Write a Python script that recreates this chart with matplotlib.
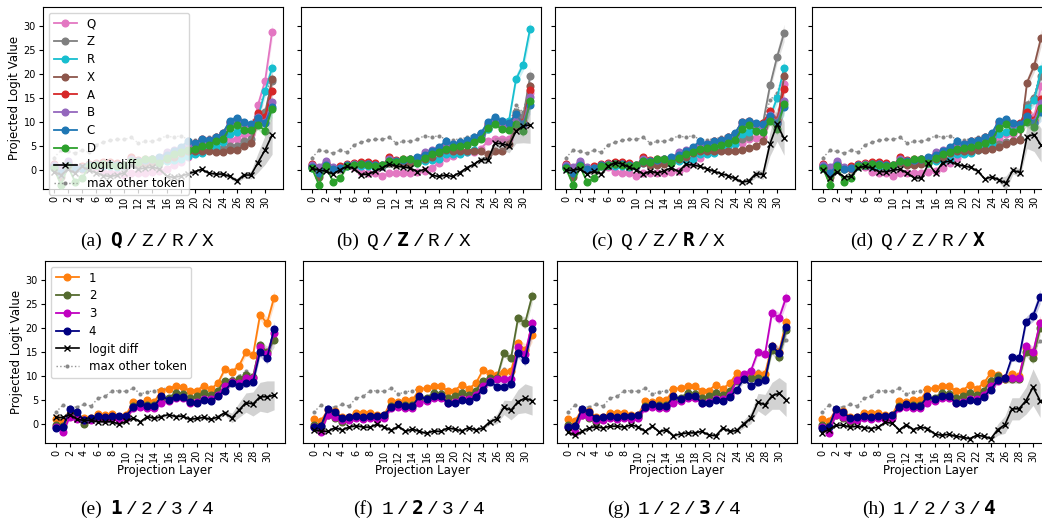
import numpy as np
import matplotlib
matplotlib.use("Agg")
import matplotlib.pyplot as plt

layers = np.arange(32)

# ---- top row: letter options Q/Z/R/X + A/B/C/D ----
letters = ["Q", "Z", "R", "X", "A", "B", "C", "D"]
letter_colors = ["#e377c2", "#7f7f7f", "#17becf", "#8c564b",
                 "#d62728", "#9467bd", "#1f77b4", "#2ca02c"]

a_Q = [1.0, 0.3, 0.8, 0.5, 0.5, 0.8, 0.6, -0.3, -0.5, -0.6, -1.0, -0.5, -0.6, -0.5, -0.4, -0.2, 0.3, 1.0, 1.8, 2.8, 3.5, 4.5, 4.7, 4.8, 4.6, 6.2, 6.4, 7.5, 7.5, 13.6, 18.5, 28.7]
a_Z = [0.8, 0.2, 1.2, 0.4, 0.5, 1.0, 1.2, 1.3, 1.2, 1.0, 0.9, 2.0, 1.8, 2.0, 2.2, 2.4, 2.8, 3.5, 4.0, 4.6, 4.5, 5.2, 5.0, 5.0, 4.5, 5.0, 5.0, 6.0, 6.5, 11.0, 12.0, 18.5]
a_R = [0.5, 0.2, 0.8, 0.3, 0.5, 0.8, 1.0, 0.9, 0.8, 0.6, 0.8, 1.5, 1.5, 1.5, 1.6, 1.4, 2.0, 2.2, 2.4, 3.0, 3.3, 3.5, 4.5, 4.8, 5.8, 7.5, 8.0, 8.3, 8.5, 11.0, 16.4, 21.2]
a_X = [0.8, -1.5, 0.8, 0.3, 0.3, 1.0, 1.0, 1.2, 1.2, 1.0, 0.8, 1.5, 1.3, 1.3, 1.5, 1.8, 2.3, 2.8, 3.5, 4.0, 4.0, 4.0, 3.9, 3.8, 3.8, 4.3, 4.2, 5.0, 5.7, 10.0, 11.0, 19.0]
a_A = [1.3, 0.5, 1.5, 0.5, 0.8, 1.2, 1.5, 1.7, 1.7, 1.5, 1.0, 2.7, 2.2, 2.3, 2.3, 2.6, 3.3, 4.0, 4.5, 5.5, 5.6, 6.4, 6.3, 6.8, 7.7, 10.0, 10.7, 9.8, 9.3, 11.8, 11.0, 16.5]
a_B = [1.0, 0.7, 1.9, 0.7, 0.5, 1.0, 1.2, 1.3, 1.2, 1.0, 0.8, 2.3, 2.0, 2.2, 2.3, 2.6, 3.7, 4.1, 4.6, 5.5, 5.5, 6.2, 6.2, 6.7, 7.5, 9.8, 10.5, 9.6, 9.2, 11.0, 10.0, 14.1]
a_C = [0.6, -0.6, 1.0, 0.3, 0.5, 1.0, 1.0, 1.2, 1.2, 1.0, 1.0, 2.0, 2.0, 2.2, 2.3, 2.8, 3.2, 4.0, 4.8, 6.0, 5.6, 6.4, 6.3, 6.8, 7.7, 10.3, 10.9, 10.0, 9.5, 10.8, 9.8, 13.2]
a_D = [0.4, -3.0, 0.8, -2.4, -1.7, 0.8, 1.0, 1.2, 1.0, 0.8, 1.0, 2.0, 1.8, 2.3, 2.3, 1.5, 2.5, 3.3, 3.8, 4.3, 4.5, 5.0, 5.3, 6.0, 6.5, 8.8, 9.3, 8.4, 8.3, 9.4, 8.2, 12.8]
a_diff = [-0.3, -1.0, 0.2, -0.6, 0.8, 0.0, -0.5, -1.1, -1.3, -1.0, -0.5, 1.0, 0.2, 0.5, 0.6, 0.3, -1.2, -1.5, -1.2, -0.8, -0.3, 0.2, -0.6, -0.8, -0.8, -1.3, -2.2, -1.0, -1.0, 1.6, 4.2, 7.3]
a_diff_sd = [0.3, 0.3, 0.3, 0.3, 0.3, 0.3, 0.3, 0.3, 0.3, 0.3, 0.3, 0.3, 0.3, 0.3, 0.3, 0.3, 0.3, 0.3, 0.3, 0.3, 0.3, 0.3, 0.3, 0.3, 0.4, 0.4, 0.5, 0.6, 0.8, 2.0, 3.0, 4.0]
a_max = [2.6, 4.1, 3.9, 3.5, 4.2, 3.7, 5.3, 5.8, 6.2, 6.4, 6.4, 6.8, 5.6, 6.0, 6.0, 6.4, 7.2, 6.8, 7.2, 6.4, 6.3, 6.5, 6.8, 7.3, 8.0, 9.0, 9.8, 9.8, 9.3, 13.0, 16.0, 19.0]

b_Q = [1.0, 0.3, 0.8, 0.5, 0.5, 0.8, 0.6, -0.3, -0.5, -0.6, -1.2, -0.6, -0.6, -0.6, -0.5, -0.3, -0.2, 0.5, 1.5, 2.5, 3.0, 3.5, 3.8, 3.8, 4.5, 6.0, 6.5, 6.5, 6.5, 9.0, 9.0, 16.0]
b_Z = [0.8, 0.2, 1.2, 0.4, 0.5, 1.0, 1.2, 1.3, 1.2, 1.0, 0.9, 2.0, 1.8, 2.0, 2.2, 2.4, 2.8, 3.5, 4.0, 4.6, 4.7, 5.0, 5.5, 6.0, 6.8, 8.5, 9.8, 9.5, 9.0, 12.0, 11.0, 19.5]
b_R = [0.5, 0.2, 0.8, 0.3, 0.5, 0.8, 1.0, 0.9, 0.8, 0.6, 0.8, 1.5, 1.5, 1.5, 1.6, 1.4, 2.0, 2.2, 2.4, 3.3, 3.3, 3.4, 3.8, 4.3, 7.3, 8.5, 10.6, 10.3, 10.3, 18.9, 21.9, 29.4]
b_X = [0.8, -1.5, 0.8, 0.3, 0.3, 1.0, 1.0, 1.2, 1.2, 1.0, 0.8, 1.5, 1.3, 1.3, 1.5, 1.8, 2.3, 2.8, 3.5, 4.2, 4.0, 4.0, 4.0, 4.0, 3.9, 3.3, 3.9, 3.9, 5.5, 9.0, 9.5, 17.4]
b_A = [1.3, 0.5, 1.5, 0.5, 0.8, 1.2, 1.5, 1.7, 1.7, 1.5, 1.0, 2.7, 2.2, 2.3, 2.3, 2.6, 3.3, 4.0, 4.5, 5.5, 5.3, 5.6, 5.8, 6.5, 7.5, 9.5, 10.5, 9.6, 9.6, 11.5, 10.0, 16.6]
b_B = [1.0, 0.7, 1.9, 0.7, 0.5, 1.0, 1.2, 1.3, 1.2, 1.0, 0.8, 2.3, 2.0, 2.2, 2.3, 2.6, 3.7, 4.1, 4.6, 5.5, 5.4, 5.6, 5.9, 6.5, 7.4, 9.3, 10.2, 9.5, 9.2, 11.0, 9.5, 15.3]
b_C = [0.6, -0.6, 1.0, 0.3, 0.5, 1.0, 1.0, 1.2, 1.2, 1.0, 1.0, 2.0, 2.0, 2.2, 2.3, 2.8, 3.2, 4.0, 4.8, 6.0, 5.4, 5.8, 6.2, 6.8, 7.7, 10.0, 11.0, 10.3, 9.8, 11.7, 9.5, 13.5]
b_D = [0.4, -3.0, 0.8, -2.4, -1.7, 0.8, 1.0, 1.2, 1.0, 0.8, 1.0, 2.0, 1.8, 2.3, 2.3, 1.5, 2.5, 3.3, 3.8, 4.5, 4.8, 5.0, 5.3, 5.8, 6.5, 8.8, 9.5, 8.5, 8.3, 9.5, 8.2, 14.3]
b_diff = [0.4, 0.0, -0.2, -0.8, 0.1, 0.8, 0.3, -0.9, -0.8, -0.2, 0.5, 1.3, 0.8, 0.7, 0.4, -0.3, 0.2, -1.0, -1.3, -1.0, -1.3, -0.5, 0.5, 1.2, 2.2, 2.2, 5.6, 5.5, 5.1, 8.1, 9.2, 9.4]
b_diff_sd = [0.3, 0.3, 0.3, 0.3, 0.3, 0.3, 0.3, 0.3, 0.3, 0.3, 0.3, 0.3, 0.3, 0.3, 0.3, 0.3, 0.3, 0.3, 0.3, 0.3, 0.3, 0.3, 0.4, 0.5, 0.6, 0.8, 1.2, 1.2, 1.5, 2.5, 3.5, 3.8]
b_max = [2.6, 4.1, 3.9, 3.5, 4.2, 3.7, 5.3, 5.8, 6.2, 6.4, 6.4, 6.8, 5.6, 6.0, 6.0, 6.4, 7.2, 6.8, 7.2, 6.4, 6.3, 6.5, 6.8, 7.3, 8.0, 9.0, 10.0, 10.0, 9.5, 13.5, 12.0, 18.0]

c_Q = [1.0, 0.3, 0.8, 0.5, 0.5, 0.8, 0.6, -0.3, -0.5, -0.6, -1.2, -0.6, -0.6, -0.6, -0.5, -0.3, -0.2, 0.5, 1.5, 2.5, 3.5, 4.0, 4.3, 4.5, 5.5, 5.7, 6.5, 6.6, 7.0, 10.5, 10.0, 18.0]
c_Z = [0.8, 0.2, 1.2, 0.4, 0.5, 1.0, 1.2, 1.3, 1.2, 1.0, 0.9, 2.0, 1.8, 2.0, 2.2, 2.4, 2.8, 3.5, 4.0, 4.6, 4.8, 5.3, 5.6, 6.0, 6.0, 6.5, 7.0, 8.2, 9.8, 17.6, 23.5, 28.5]
c_R = [0.5, 0.2, 0.8, 0.3, 0.5, 0.8, 1.0, 0.9, 0.8, 0.6, 0.8, 1.5, 1.5, 1.5, 1.6, 1.4, 2.0, 2.2, 2.4, 3.3, 3.3, 3.5, 4.5, 5.0, 5.5, 7.5, 8.0, 8.5, 9.5, 11.0, 15.0, 21.2]
c_X = [0.8, -1.5, 0.8, 0.3, 0.3, 1.0, 1.0, 1.2, 1.2, 1.0, 0.8, 1.5, 1.0, 1.0, 1.2, 1.8, 2.3, 2.8, 3.5, 4.0, 4.0, 4.0, 4.0, 4.0, 3.9, 4.3, 4.6, 5.0, 6.0, 11.0, 9.5, 19.5]
c_A = [1.3, 0.5, 1.5, 0.5, 0.8, 1.2, 1.5, 1.7, 1.7, 1.5, 1.0, 2.7, 2.2, 2.3, 2.3, 2.6, 3.3, 4.0, 4.5, 5.5, 5.5, 6.0, 6.2, 6.8, 7.5, 10.0, 10.3, 9.6, 9.8, 12.3, 10.5, 16.8]
c_B = [1.0, 0.7, 1.9, 0.7, 0.5, 1.0, 1.2, 1.3, 1.2, 1.0, 0.8, 2.3, 2.0, 2.2, 2.3, 2.6, 3.7, 4.1, 4.6, 5.5, 5.4, 5.8, 6.0, 6.6, 7.4, 9.6, 10.1, 9.5, 9.2, 11.5, 10.0, 14.4]
c_C = [0.6, -0.6, 1.0, 0.3, 0.5, 1.0, 1.0, 1.2, 1.2, 1.0, 1.0, 2.0, 2.0, 2.2, 2.3, 2.8, 3.2, 4.0, 4.8, 6.0, 5.5, 6.0, 6.2, 6.8, 7.7, 10.0, 10.3, 9.8, 9.5, 11.3, 9.8, 13.2]
c_D = [0.4, -3.0, 0.8, -2.4, -1.7, 0.8, 1.0, 1.2, 1.0, 0.8, 1.0, 2.0, 1.8, 2.3, 2.3, 1.5, 2.5, 3.3, 3.8, 4.5, 4.6, 4.9, 5.2, 5.7, 6.3, 8.5, 9.3, 8.2, 8.0, 10.3, 8.6, 13.7]
c_diff = [0.0, 0.0, 0.3, -0.8, -0.2, -0.8, 0.8, 1.6, 1.3, 0.6, 0.1, -0.8, -0.2, -0.6, -0.1, 0.5, -0.3, 1.2, 1.1, 0.8, 0.3, -0.2, -0.7, -1.1, -1.7, -2.5, -2.2, -0.7, -0.9, 5.5, 9.5, 6.6]
c_diff_sd = [0.3, 0.3, 0.3, 0.3, 0.3, 0.3, 0.3, 0.3, 0.3, 0.3, 0.3, 0.3, 0.3, 0.3, 0.3, 0.3, 0.3, 0.3, 0.3, 0.3, 0.3, 0.3, 0.3, 0.3, 0.4, 0.4, 0.5, 0.8, 1.0, 2.5, 3.5, 3.5]
c_max = [2.6, 4.1, 3.9, 3.5, 4.2, 3.7, 5.3, 5.8, 6.2, 6.4, 6.4, 6.8, 5.6, 6.0, 6.0, 6.4, 7.2, 6.8, 7.2, 6.4, 6.3, 6.5, 6.8, 7.3, 8.0, 9.0, 9.8, 9.8, 9.5, 14.6, 16.0, 20.5]

d_Q = [1.0, 0.3, 0.8, 0.5, 0.5, 0.8, 0.6, -0.3, -0.5, -0.6, -1.2, -0.6, -0.6, -0.6, -0.5, -0.3, -0.2, 0.5, 1.5, 2.5, 3.5, 4.0, 4.5, 4.5, 5.0, 6.5, 7.5, 7.5, 8.5, 11.0, 11.0, 17.5]
d_Z = [0.8, 0.2, 1.2, 0.4, 0.5, 1.0, 1.2, 1.3, 1.2, 1.0, 0.9, 2.0, 1.8, 2.0, 2.2, 2.4, 2.8, 3.5, 4.0, 4.6, 4.7, 5.0, 5.0, 5.2, 5.3, 5.5, 5.8, 6.0, 6.5, 13.5, 15.0, 19.5]
d_R = [0.5, 0.2, 0.8, 0.3, 0.5, 0.8, 1.0, 0.9, 0.8, 0.6, 0.8, 1.5, 1.5, 1.5, 1.6, 1.4, 2.0, 2.2, 2.4, 3.3, 3.3, 3.5, 4.3, 5.0, 5.5, 7.5, 8.0, 8.5, 9.5, 13.0, 14.5, 21.0]
d_X = [0.8, -1.5, 0.8, 0.3, 0.3, 1.0, 1.0, 1.2, 1.2, 1.0, 0.8, 1.5, 1.0, 1.0, 1.2, 1.8, 2.3, 2.8, 3.5, 4.0, 4.0, 4.0, 4.2, 4.3, 4.4, 4.8, 5.5, 6.0, 6.3, 18.2, 21.6, 27.5]
d_A = [1.3, 0.5, 1.5, 0.5, 0.8, 1.2, 1.5, 1.7, 1.7, 1.5, 1.0, 2.7, 2.2, 2.3, 2.3, 2.6, 3.3, 4.0, 4.5, 5.5, 5.5, 6.0, 6.2, 6.8, 7.5, 10.0, 10.5, 9.6, 9.8, 12.0, 10.5, 14.8]
d_B = [1.0, 0.7, 1.9, 0.7, 0.5, 1.0, 1.2, 1.3, 1.2, 1.0, 0.8, 2.3, 2.0, 2.2, 2.3, 2.6, 3.7, 4.1, 4.6, 5.5, 5.4, 5.8, 6.0, 6.6, 7.4, 9.6, 10.1, 9.5, 9.2, 11.0, 10.0, 14.0]
d_C = [0.6, -0.6, 1.0, 0.3, 0.5, 1.0, 1.0, 1.2, 1.2, 1.0, 1.0, 2.0, 2.0, 2.2, 2.3, 2.8, 3.2, 4.0, 4.8, 6.0, 5.5, 6.0, 6.2, 6.8, 7.7, 10.3, 10.6, 9.8, 9.5, 11.3, 9.8, 12.0]
d_D = [0.4, -3.0, 0.8, -2.4, -1.7, 0.8, 1.0, 1.2, 1.0, 0.8, 1.0, 2.0, 1.8, 2.3, 2.3, 1.5, 2.5, 3.3, 3.8, 4.5, 4.6, 4.9, 5.2, 5.7, 6.3, 8.8, 9.5, 8.0, 8.5, 10.0, 9.0, 13.0]
d_diff = [0.0, -1.6, -0.3, -1.4, -1.3, 0.5, 0.8, 0.4, -0.3, -0.3, 0.0, 0.2, -0.6, -1.6, -1.6, 1.4, -0.6, 1.6, 1.9, 1.2, 0.9, 0.6, -0.2, -1.8, -1.4, -2.0, -2.7, 0.0, -0.5, 7.0, 7.4, 5.2]
d_diff_sd = [0.3, 0.3, 0.3, 0.3, 0.3, 0.3, 0.3, 0.3, 0.3, 0.3, 0.3, 0.3, 0.3, 0.3, 0.3, 0.3, 0.3, 0.3, 0.3, 0.3, 0.3, 0.3, 0.3, 0.3, 0.4, 0.5, 1.5, 0.8, 0.8, 2.5, 3.5, 3.5]
d_max = [2.6, 4.1, 3.9, 3.5, 4.2, 3.7, 5.3, 5.8, 6.2, 6.4, 6.4, 6.8, 5.6, 6.0, 6.0, 6.4, 7.2, 6.8, 7.2, 6.4, 6.3, 6.5, 6.8, 7.3, 8.0, 9.0, 9.8, 9.8, 9.5, 14.0, 15.5, 21.0]

letter_sd = [0.4, 0.5, 0.4, 0.4, 0.4, 0.3, 0.3, 0.3, 0.3, 0.3, 0.3, 0.4, 0.4, 0.4, 0.4, 0.4, 0.4, 0.4, 0.4, 0.4, 0.4, 0.4, 0.4, 0.5, 0.5, 0.6, 0.6, 0.6, 0.6, 1.0, 1.3, 1.8]

# ---- bottom row: digit options 1/2/3/4 ----
digits = ["1", "2", "3", "4"]
digit_colors = ["#ff7f0e", "#556b2f", "#c000c0", "#000080"]

e_1 = [1.0, 0.5, 2.2, 1.5, 1.3, 1.3, 2.1, 2.0, 2.2, 1.6, 2.0, 4.7, 4.5, 5.0, 4.7, 7.0, 7.3, 8.0, 7.8, 7.0, 7.0, 8.0, 7.3, 8.5, 11.4, 10.9, 12.1, 15.0, 14.3, 22.7, 21.0, 26.3]
e_2 = [-0.2, -0.3, 2.0, 1.2, 0.1, 1.0, 1.4, 1.3, 1.5, 1.3, 1.6, 3.7, 4.0, 4.0, 4.0, 5.5, 5.5, 6.5, 6.2, 5.5, 5.8, 6.5, 6.0, 7.0, 9.0, 9.0, 9.3, 10.3, 9.8, 16.5, 15.0, 17.5]
e_3 = [-0.5, -1.7, 1.6, 1.0, 0.8, 0.8, 1.2, 1.0, 1.2, 1.0, 1.2, 3.3, 3.6, 3.3, 3.3, 4.5, 4.8, 5.5, 5.4, 4.5, 4.7, 5.2, 5.3, 6.0, 8.0, 8.7, 8.6, 9.5, 9.5, 16.0, 14.5, 19.0]
e_4 = [-0.8, -0.5, 3.1, 2.5, 0.8, 1.3, 1.7, 1.4, 1.7, 1.7, 1.8, 3.5, 4.4, 3.7, 3.8, 5.8, 5.1, 5.7, 5.6, 4.6, 4.5, 5.0, 4.8, 5.8, 7.0, 8.6, 8.0, 8.6, 8.7, 15.0, 13.7, 19.8]
e_diff = [1.4, 1.4, 2.0, 1.0, 0.8, 0.8, 0.5, 0.5, 0.5, 0.0, 0.6, 1.3, 0.5, 1.6, 1.2, 1.6, 2.0, 1.6, 1.7, 1.0, 1.2, 1.4, 1.0, 1.5, 2.4, 1.3, 2.9, 4.5, 4.2, 5.7, 5.7, 6.0]
e_diff_sd = [0.3, 0.3, 0.3, 0.3, 0.3, 0.3, 0.3, 0.3, 0.3, 0.3, 0.3, 0.3, 0.3, 0.3, 0.3, 0.3, 0.3, 0.3, 0.3, 0.3, 0.3, 0.3, 0.3, 0.4, 0.5, 1.0, 1.5, 2.0, 2.5, 3.0, 3.3, 3.0]
e_max = [2.5, 4.0, 3.5, 3.6, 4.1, 3.8, 5.4, 5.8, 7.0, 6.9, 6.8, 7.5, 6.3, 6.7, 7.0, 7.3, 7.6, 7.5, 7.4, 7.0, 6.8, 7.1, 7.0, 8.5, 9.0, 9.5, 10.0, 11.0, 10.0, 16.5, 14.5, 18.0]

f_1 = [1.0, 0.7, 3.0, 2.7, 1.5, 1.5, 2.4, 2.3, 2.4, 2.0, 2.0, 4.8, 4.6, 5.0, 5.0, 7.3, 7.5, 8.0, 7.9, 7.0, 7.0, 8.2, 7.4, 8.5, 11.2, 10.6, 10.2, 10.8, 11.0, 16.8, 15.5, 18.5]
f_2 = [-0.2, -0.3, 2.0, 1.2, 0.4, 1.0, 1.4, 1.3, 1.5, 1.3, 1.6, 3.7, 4.0, 4.0, 4.0, 5.5, 5.5, 6.5, 6.2, 5.5, 5.8, 6.5, 6.0, 7.0, 9.0, 9.5, 9.6, 14.8, 13.7, 22.0, 21.0, 26.6]
f_3 = [-0.5, -1.7, 2.0, 1.6, 0.8, 0.8, 1.2, 1.0, 1.2, 1.0, 1.2, 3.3, 3.6, 3.3, 3.3, 4.5, 4.8, 5.5, 5.4, 4.5, 4.7, 5.2, 5.3, 6.0, 8.0, 9.0, 9.3, 9.3, 9.3, 16.0, 14.5, 21.0]
f_4 = [-0.5, -0.3, 3.2, 2.6, 1.2, 1.4, 1.8, 1.5, 1.8, 1.8, 1.9, 3.6, 4.3, 3.8, 3.8, 5.8, 5.2, 5.8, 5.8, 4.5, 4.4, 5.0, 4.8, 5.7, 7.2, 8.8, 7.8, 7.8, 8.3, 14.8, 13.3, 19.8]
f_diff = [-1.3, -1.4, -1.5, -0.7, -1.2, -0.6, -0.3, -0.6, -0.6, 0.0, -0.6, -1.3, -0.4, -1.5, -1.0, -1.5, -1.9, -1.4, -1.5, -0.8, -1.0, -1.4, -0.7, -1.2, -0.8, 0.5, 1.1, 3.5, 2.9, 4.7, 5.4, 4.9]
f_diff_sd = [0.3, 0.3, 0.3, 0.3, 0.3, 0.3, 0.3, 0.3, 0.3, 0.3, 0.3, 0.3, 0.3, 0.3, 0.3, 0.3, 0.3, 0.3, 0.3, 0.3, 0.3, 0.3, 0.3, 0.3, 0.4, 0.6, 1.0, 1.5, 2.0, 2.5, 3.0, 3.0]
f_max = [2.5, 4.0, 3.5, 3.6, 4.1, 3.8, 5.4, 5.8, 7.0, 6.9, 6.8, 7.5, 6.3, 6.7, 7.0, 7.3, 7.6, 7.5, 7.4, 7.0, 6.8, 7.1, 7.0, 8.5, 9.0, 9.5, 10.0, 11.5, 10.5, 16.0, 15.5, 18.5]

g_1 = [1.0, 0.7, 3.0, 2.7, 1.5, 1.5, 2.4, 2.3, 2.4, 2.0, 2.0, 4.8, 4.6, 5.0, 5.0, 7.3, 7.5, 8.0, 7.9, 7.0, 7.0, 8.2, 7.4, 8.5, 10.6, 10.2, 10.0, 10.5, 10.5, 16.3, 15.0, 21.3]
g_2 = [-0.2, -0.3, 2.0, 1.2, 0.4, 1.0, 1.4, 1.3, 1.5, 1.3, 1.6, 3.7, 4.0, 4.0, 4.0, 5.5, 5.5, 6.5, 6.2, 5.5, 5.8, 6.5, 6.0, 7.0, 9.0, 9.3, 9.5, 9.5, 9.3, 15.5, 14.0, 19.5]
g_3 = [-0.5, -1.7, 2.0, 1.6, 0.8, 0.8, 1.2, 1.0, 1.2, 1.0, 1.2, 3.3, 3.6, 3.3, 3.3, 4.5, 4.8, 5.5, 5.4, 4.5, 4.7, 5.2, 5.3, 6.0, 9.2, 10.4, 11.1, 15.1, 14.5, 23.2, 22.0, 26.3]
g_4 = [-0.5, -0.3, 3.2, 2.6, 1.2, 1.4, 1.8, 1.5, 1.8, 1.8, 1.9, 3.6, 4.3, 3.8, 3.8, 5.8, 5.2, 5.8, 5.8, 4.5, 4.4, 5.0, 4.8, 5.7, 7.2, 9.4, 8.0, 8.8, 9.1, 16.3, 14.7, 20.1]
g_diff = [-1.6, -2.3, -1.5, -0.8, -0.5, -0.8, -0.4, -0.4, -0.6, -0.1, -0.6, -1.5, -0.4, -1.6, -1.1, -2.4, -2.0, -1.8, -1.8, -1.5, -2.2, -2.4, -0.8, -1.5, -1.3, 0.1, 1.3, 4.6, 4.0, 5.9, 6.4, 5.1]
g_diff_sd = [0.3, 0.3, 0.3, 0.3, 0.3, 0.3, 0.3, 0.3, 0.3, 0.3, 0.3, 0.3, 0.3, 0.3, 0.3, 0.3, 0.3, 0.3, 0.3, 0.3, 0.3, 0.3, 0.3, 0.4, 0.5, 0.8, 1.2, 1.8, 2.2, 2.8, 3.3, 3.5]
g_max = [2.5, 4.0, 3.5, 3.6, 4.1, 3.8, 5.4, 5.8, 7.0, 6.9, 6.8, 7.5, 6.3, 6.7, 7.0, 7.3, 7.6, 7.5, 7.4, 7.0, 6.8, 7.1, 7.0, 8.5, 9.5, 10.0, 10.0, 11.0, 10.5, 16.5, 15.5, 17.4]

h_1 = [1.0, 0.7, 3.0, 2.7, 1.5, 1.5, 2.4, 2.3, 2.4, 2.0, 2.0, 4.8, 4.6, 5.0, 5.0, 7.3, 7.5, 8.0, 7.9, 7.0, 7.0, 8.2, 7.4, 8.5, 10.7, 10.2, 9.3, 10.5, 10.0, 15.8, 14.5, 21.0]
h_2 = [-0.2, -0.3, 2.0, 1.2, 0.4, 1.0, 1.4, 1.3, 1.5, 1.3, 1.6, 3.7, 4.0, 4.0, 4.0, 5.5, 5.5, 6.5, 6.2, 5.5, 5.8, 6.5, 6.0, 7.0, 9.0, 10.0, 9.3, 9.3, 9.3, 15.1, 13.7, 19.9]
h_3 = [-0.5, -1.8, 2.0, 1.6, 0.8, 0.8, 1.2, 1.0, 1.2, 1.0, 1.2, 3.3, 3.6, 3.3, 3.3, 4.5, 4.8, 5.5, 5.4, 4.5, 4.7, 5.2, 5.3, 6.0, 8.0, 9.0, 9.6, 9.6, 9.6, 16.3, 14.9, 21.1]
h_4 = [-0.7, -0.5, 3.2, 2.6, 1.2, 1.4, 1.8, 1.5, 1.8, 1.8, 1.9, 3.6, 4.3, 3.8, 3.8, 5.8, 5.2, 5.8, 5.8, 4.5, 4.4, 5.0, 4.8, 5.7, 7.2, 9.1, 9.5, 13.9, 13.7, 21.3, 22.5, 26.5]
h_diff = [-1.8, -1.1, -0.2, -0.2, -0.6, -0.4, -0.7, -0.9, -0.6, 0.4, 0.2, -1.2, -0.1, -1.1, -0.6, -0.9, -2.0, -2.3, -2.1, -2.5, -2.7, -3.0, -2.3, -2.5, -3.0, -1.1, -0.1, 3.2, 3.2, 4.9, 7.7, 4.9]
h_diff_sd = [0.3, 0.3, 0.3, 0.3, 0.3, 0.3, 0.3, 0.3, 0.3, 0.3, 0.3, 0.3, 0.3, 0.3, 0.3, 0.3, 0.3, 0.3, 0.3, 0.3, 0.3, 0.3, 0.3, 0.3, 0.4, 1.2, 1.8, 2.3, 2.3, 2.8, 3.8, 3.5]
h_max = [2.5, 4.0, 3.5, 3.6, 4.1, 3.8, 5.4, 5.8, 7.0, 6.9, 6.8, 7.5, 6.3, 6.7, 7.0, 7.3, 7.6, 7.5, 7.4, 7.0, 6.8, 7.1, 7.0, 8.5, 9.5, 10.0, 10.0, 10.5, 10.0, 16.0, 15.0, 17.3]

digit_sd = [0.4, 0.4, 0.4, 0.4, 0.4, 0.3, 0.3, 0.3, 0.3, 0.3, 0.3, 0.4, 0.4, 0.4, 0.4, 0.4, 0.4, 0.4, 0.4, 0.4, 0.4, 0.4, 0.4, 0.5, 0.5, 0.6, 0.7, 0.8, 0.8, 1.0, 1.2, 1.5]

top_panels = [
    ("(a)", [a_Q, a_Z, a_R, a_X, a_A, a_B, a_C, a_D], a_diff, a_diff_sd, a_max, 0),
    ("(b)", [b_Q, b_Z, b_R, b_X, b_A, b_B, b_C, b_D], b_diff, b_diff_sd, b_max, 1),
    ("(c)", [c_Q, c_Z, c_R, c_X, c_A, c_B, c_C, c_D], c_diff, c_diff_sd, c_max, 2),
    ("(d)", [d_Q, d_Z, d_R, d_X, d_A, d_B, d_C, d_D], d_diff, d_diff_sd, d_max, 3),
]
bottom_panels = [
    ("(e)", [e_1, e_2, e_3, e_4], e_diff, e_diff_sd, e_max, 0),
    ("(f)", [f_1, f_2, f_3, f_4], f_diff, f_diff_sd, f_max, 1),
    ("(g)", [g_1, g_2, g_3, g_4], g_diff, g_diff_sd, g_max, 2),
    ("(h)", [h_1, h_2, h_3, h_4], h_diff, h_diff_sd, h_max, 3),
]

W, H = 1042, 527
fig = plt.figure(figsize=(W / 100, H / 100), dpi=100)

top_left = [43, 301, 555, 812]
bot_left = [45, 303, 557, 811]
ax_w, ax_h = 240, 182
top_cap_x = [147, 403, 658, 917]
bot_cap_x = [147, 419, 674, 929]

TICK_FS = 7
LAB_FS = 8.5


def draw_panel(ax, names, colors, series, diff, diff_sd, mx, sd, legend):
    sd = np.array(sd)
    h_max, = ax.plot(layers, mx, ":", color="#808080", marker=".", ms=4,
                     lw=1.0, alpha=0.85, zorder=1, label="max other token")
    handles = []
    for name, c, vals in zip(names, colors, series):
        v = np.array(vals)
        ax.fill_between(layers, v - sd, v + sd, color=c, alpha=0.22, lw=0, zorder=2)
        hl, = ax.plot(layers, v, "-o", color=c, ms=4.8, lw=1.3, zorder=3, label=name)
        handles.append(hl)
    d = np.array(diff)
    dsd = np.array(diff_sd)
    ax.fill_between(layers, d - dsd, d + dsd, color="#808080", alpha=0.35, lw=0, zorder=4)
    h_diff, = ax.plot(layers, d, "-x", color="black", ms=5, lw=1.2, zorder=5, label="logit diff")
    handles += [h_diff, h_max]

    ax.set_xlim(-1.55, 32.55)
    ax.set_ylim(-3.9, 33.9)
    ax.set_xticks(np.arange(0, 31, 2))
    ax.set_xticklabels([str(t) for t in range(0, 31, 2)], rotation=90, fontsize=TICK_FS)
    ax.set_yticks(np.arange(0, 31, 5))
    ax.tick_params(labelsize=TICK_FS, length=3, pad=2)
    if legend:
        ax.legend(handles=handles, loc="upper left", fontsize=LAB_FS,
                  labelspacing=0.4, handlelength=2.0, borderpad=0.4)


def caption(xc, yc, tag, items, bold_idx):
    renderer = fig.canvas.get_renderer()
    fs = 14
    pieces = [(tag, "Liberation Serif", "normal", 8)]
    for i, it in enumerate(items):
        if i:
            pieces.append(("/", "Liberation Mono", "normal", 3.5))
        if i == bold_idx:
            pieces.append((it, "DejaVu Sans Mono", "bold", 3.5))
        else:
            pieces.append((it, "Liberation Mono", "normal", 3.5))
    texts, widths = [], []
    for s, fam, wt, gap in pieces:
        t = fig.text(0, 1 - yc / H, s, family=fam, weight=wt, fontsize=fs,
                     va="baseline", ha="left")
        widths.append(t.get_window_extent(renderer).width)
        texts.append(t)
    gaps = [p[3] for p in pieces]
    total = sum(widths) + sum(gaps[:-1])
    x = xc - total / 2
    for t, w, g in zip(texts, widths, gaps):
        t.set_x(x / W)
        x += w + g


for k, (tag, series, diff, dsd, mx, bold) in enumerate(top_panels):
    ax = fig.add_axes([top_left[k] / W, 1 - (7 + ax_h) / H, ax_w / W, ax_h / H])
    draw_panel(ax, letters, letter_colors, series, diff, dsd, mx, letter_sd, k == 0)
    if k == 0:
        ax.set_ylabel("Projected Logit Value", fontsize=LAB_FS, labelpad=2)
    else:
        ax.set_yticklabels([])
    caption(top_cap_x[k], 246, tag, ["Q", "Z", "R", "X"], bold)

for k, (tag, series, diff, dsd, mx, bold) in enumerate(bottom_panels):
    ax = fig.add_axes([bot_left[k] / W, 1 - (261 + ax_h) / H, ax_w / W, ax_h / H])
    draw_panel(ax, digits, digit_colors, series, diff, dsd, mx, digit_sd, k == 0)
    if k == 0:
        ax.set_ylabel("Projected Logit Value", fontsize=LAB_FS, labelpad=2)
    else:
        ax.set_yticklabels([])
    ax.set_xlabel("Projection Layer", fontsize=LAB_FS, labelpad=1)
    caption(bot_cap_x[k], 514, tag, ["1", "2", "3", "4"], bold)

fig.savefig("out.png", dpi=100)
